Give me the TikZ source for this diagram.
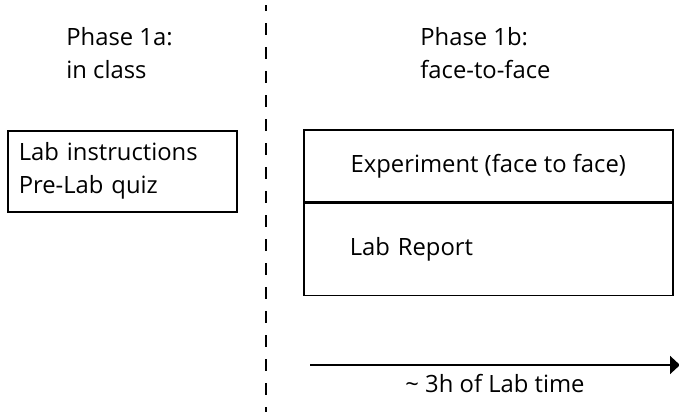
\documentclass[tikz,border=0pt]{standalone}
\usepackage{fontspec}
\setmainfont{Open Sans}
\usetikzlibrary{arrows.meta}

\tikzset{
  cell/.style={draw, line width=0.8pt, inner sep=0pt},
  label/.style={inner sep=0pt, align=left}
}

\begin{document}
\begin{tikzpicture}[x=0.5pt, y=-0.5pt,
    font=\fontsize{11.9}{16.5}\selectfont, >={Triangle[length=5pt,width=9pt]}]
  \useasboundingbox (0,0) rectangle (679,412);

  % phase divider
  \draw[line width=1pt, dash pattern=on 6pt off 6pt, dash phase=3pt] (266,5) -- (266,412);

  % headings (base = last line)
  \node[label, anchor=base west] (hd1a) at (66,78) {Phase 1a:\\in class};
  \node[label, anchor=base west] (hd1b) at (420,78) {Phase 1b:\\face-to-face};

  % phase 1a box
  \node[cell, anchor=north west, minimum width=114.5pt, minimum height=40.5pt,
        text width=103.5pt, inner xsep=5.5pt, align=left] (prelab) at (7,130)
       {Lab instructions\\Pre-Lab quiz};

  % phase 1b boxes
  \node[cell, anchor=north west, minimum width=184.5pt, minimum height=36pt] (exp) at (303,129)
       {Experiment (face to face)};
  \node[cell, anchor=north, minimum width=184.5pt, minimum height=46pt,
        text width=138.5pt, inner xsep=23pt, align=left] (report) at (exp.south)
       {Lab Report};

  % time line
  \coordinate (t0) at (310,365);
  \coordinate (t1) at (680,365);
  \draw[->, line width=1pt] (t0) -- (t1);
  \node[label, anchor=base] (tlab) at (495,392) {\textasciitilde{} 3h of Lab time};
\end{tikzpicture}
\end{document}
